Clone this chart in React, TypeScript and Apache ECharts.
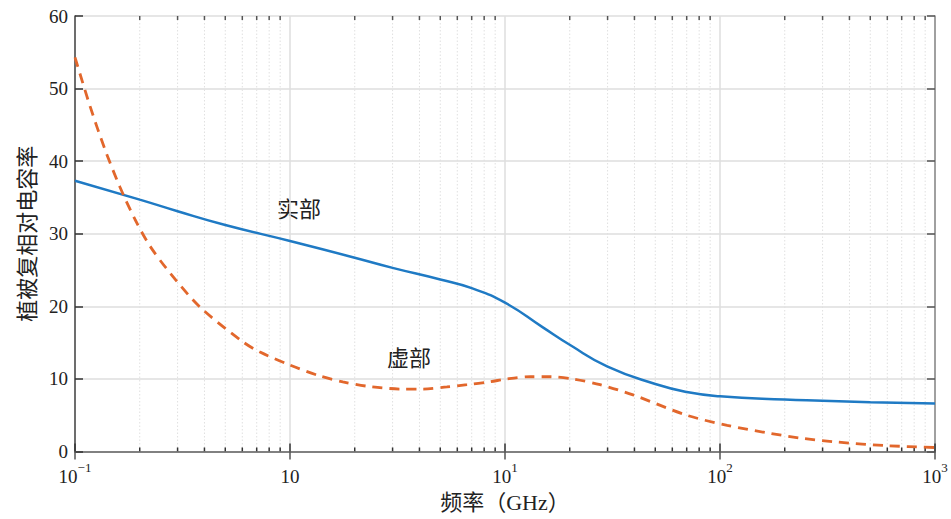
import React, { useEffect, useRef } from "react";
import * as echarts from "echarts";

// ---- data ----
const freqReal = [0.1, 0.2, 0.3, 0.5, 1, 2, 3, 5, 7, 10, 15, 20, 30, 50, 70, 100, 200, 300, 500, 1000];
const realPart = [37.3, 34.7, 33.1, 31.2, 29.0, 26.7, 25.3, 23.7, 22.5, 20.5, 17.1, 14.7, 11.7, 9.3, 8.2, 7.6, 7.15, 7.0, 6.8, 6.6];

const freqImag = [0.1, 0.1174, 0.1379, 0.162, 0.19, 0.2233, 0.2766, 0.3815, 0.6046, 0.7253, 1, 1.38, 1.76, 2.28, 3.35, 4.15, 5.37, 6.66, 8.5, 10.2, 13.1, 16.2, 20.7, 27.7, 39.4, 70, 108, 171, 243, 350, 600, 1000];
const imagPart = [54.3, 47.6, 41.6, 36.4, 32.0, 28.3, 24.6, 19.9, 15.1, 13.7, 11.9, 10.4, 9.6, 9.0, 8.6, 8.6, 8.9, 9.2, 9.6, 10.0, 10.3, 10.3, 10.0, 9.2, 7.8, 5.0, 3.6, 2.5, 1.8, 1.3, 0.8, 0.55];

const decades = [0.1, 1, 10, 100];
const minorMultipliers = [2, 3, 4, 5, 6, 7, 8, 9];
const minorTicks = decades.flatMap((d) => minorMultipliers.map((k) => Number((d * k).toPrecision(3))));

const yMin = 0;
const yMax = 60;
const yStep = 10;
const xMin = 0.1;
const xMax = 1000;

const yAxisName = "植被复相对电容率";
const xAxisName = "频率（GHz）";
const realLabel = "实部";
const imagLabel = "虚部";

const SERIF = "'Liberation Serif', 'Noto Sans CJK SC', serif";
const TXT = "#222";

export default function App() {
  const ref = useRef<HTMLDivElement>(null);

  useEffect(() => {
    if (!ref.current) return;
    const chart = echarts.init(ref.current, null, { renderer: "svg" });
    const option: any = {
      animation: false,
      backgroundColor: "#fff",
      grid: { left: 75, right: 16, top: 16, bottom: 67.5, containLabel: false },
      xAxis: [
        {
          type: "log",
          logBase: 10,
          min: xMin,
          max: xMax,
          position: "bottom",
          name: xAxisName,
          nameLocation: "middle",
          nameGap: 36,
          nameTextStyle: { fontFamily: SERIF, fontSize: 22, color: TXT },
          axisLine: { show: true, lineStyle: { color: "#444", width: 1.5 } },
          axisTick: { show: true, inside: true, length: 8, lineStyle: { color: "#333", width: 1.5 } },
          splitLine: { show: true, lineStyle: { color: "#dedede", width: 1.5 } },
          axisLabel: {
            margin: 9,
            formatter: (v: number) => {
              const e = Math.round(Math.log10(v));
              if (e === 0) return "{b|10}";
              return "{b|10}{s|" + (e < 0 ? "\u2212" + -e : e) + "}";
            },
            rich: {
              b: { fontFamily: SERIF, fontSize: 19, color: TXT, lineHeight: 26, verticalAlign: "bottom" },
              s: { fontFamily: SERIF, fontSize: 13, color: TXT, lineHeight: 14, verticalAlign: "top" },
            },
          },
        },
        {
          type: "log",
          logBase: 10,
          min: xMin,
          max: xMax,
          position: "top",
          axisLine: { show: true, lineStyle: { color: "#888", width: 1.5 } },
          axisTick: { show: true, inside: true, length: 8, lineStyle: { color: "#555", width: 1.5 } },
          splitLine: { show: false },
          axisLabel: { show: false },
        },
      ],
      yAxis: [
        {
          type: "value",
          min: yMin,
          max: yMax,
          interval: yStep,
          position: "left",
          name: yAxisName,
          nameLocation: "middle",
          nameRotate: 90,
          nameGap: 36,
          nameTextStyle: { fontFamily: SERIF, fontSize: 22, color: TXT },
          axisLine: { show: true, lineStyle: { color: "#444", width: 1.5 } },
          axisTick: { show: true, inside: true, length: 8, lineStyle: { color: "#333", width: 1.5 } },
          splitLine: { show: true, lineStyle: { color: "#dedede", width: 1.5 } },
          axisLabel: { margin: 7, fontFamily: SERIF, fontSize: 19, color: TXT },
        },
        {
          type: "value",
          min: yMin,
          max: yMax,
          interval: yStep,
          position: "right",
          axisLine: { show: true, lineStyle: { color: "#888", width: 1.5 } },
          axisTick: { show: true, inside: true, length: 8, lineStyle: { color: "#555", width: 1.5 } },
          splitLine: { show: false },
          axisLabel: { show: false },
        },
      ],
      series: [
        {
          type: "custom",
          xAxisIndex: 0,
          yAxisIndex: 0,
          silent: true,
          z: 1,
          data: minorTicks.map((v) => [v, 0]),
          encode: { x: 0, y: 1 },
          renderItem: (params: any, api: any) => {
            const v = api.value(0);
            const b = api.coord([v, yMin]);
            const t = api.coord([v, yMax]);
            return {
              type: "group",
              children: [
                {
                  type: "line",
                  shape: { x1: b[0], y1: b[1], x2: t[0], y2: t[1] },
                  style: { stroke: "#e0e0e0", lineWidth: 1, lineDash: [1.5, 2] },
                },
                {
                  type: "line",
                  shape: { x1: b[0], y1: b[1], x2: b[0], y2: b[1] - 4 },
                  style: { stroke: "#333", lineWidth: 1.5 },
                },
                {
                  type: "line",
                  shape: { x1: t[0], y1: t[1], x2: t[0], y2: t[1] + 4 },
                  style: { stroke: "#555", lineWidth: 1.5 },
                },
              ],
            };
          },
        },
        {
          type: "line",
          name: realLabel,
          xAxisIndex: 0,
          yAxisIndex: 0,
          z: 3,
          smooth: 0.5,
          showSymbol: false,
          symbol: "none",
          data: freqReal.map((f, i) => [f, realPart[i]]),
          lineStyle: { color: "#1F7AC4", width: 2.5 },
        },
        {
          type: "line",
          name: imagLabel,
          xAxisIndex: 0,
          yAxisIndex: 0,
          z: 3,
          smooth: 0.3,
          showSymbol: false,
          symbol: "none",
          data: freqImag.map((f, i) => [f, imagPart[i]]),
          lineStyle: { color: "#E2672C", width: 2.8, type: [10, 7] },
        },
      ],
      graphic: [
        {
          type: "text",
          left: 277,
          top: 198,
          style: { text: realLabel, fontFamily: SERIF, fontSize: 22, fill: TXT },
        },
        {
          type: "text",
          left: 387,
          top: 347,
          style: { text: imagLabel, fontFamily: SERIF, fontSize: 22, fill: TXT },
        },
      ],
    };
    chart.setOption(option);
    return () => chart.dispose();
  }, []);

  return (
    <div
      ref={ref}
      style={{ position: "fixed", left: 0, top: 0, width: 951, height: 519, background: "#fff" }}
    />
  );
}
